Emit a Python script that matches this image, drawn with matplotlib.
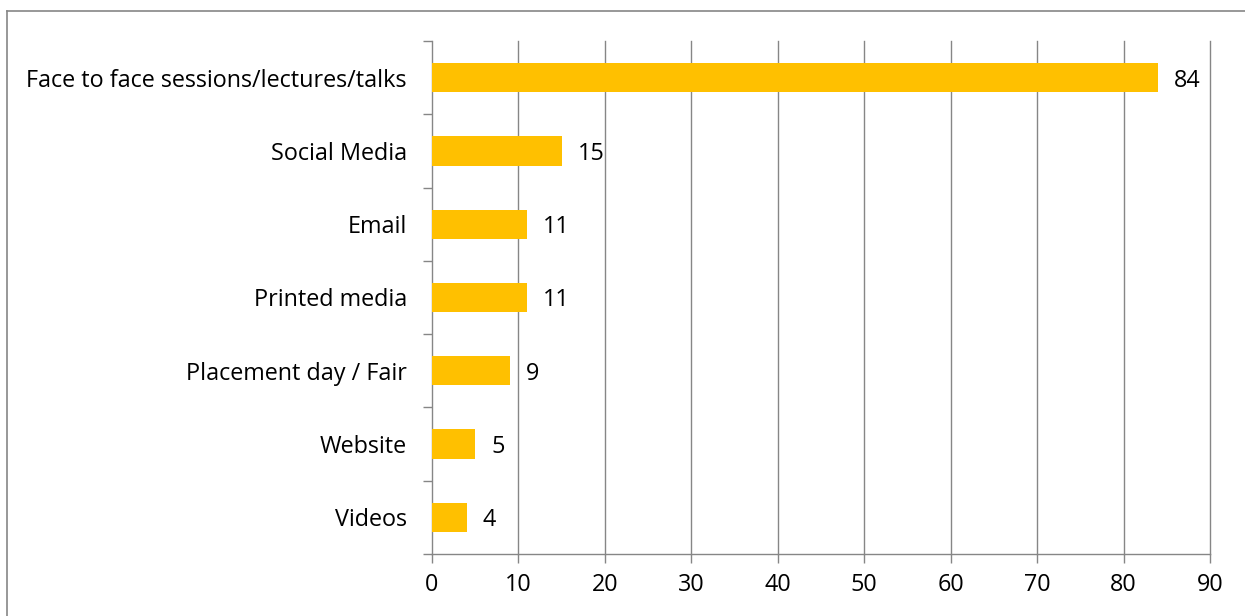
import matplotlib
matplotlib.use("Agg")
import matplotlib.pyplot as plt
from matplotlib.lines import Line2D

categories = [
    "Face to face sessions/lectures/talks",
    "Social Media",
    "Email",
    "Printed media",
    "Placement day / Fair",
    "Website",
    "Videos",
]
values = [84, 15, 11, 11, 9, 5, 4]
x_ticks = [0, 10, 20, 30, 40, 50, 60, 70, 80, 90]

W, H = 1245, 616
fig = plt.figure(figsize=(W / 100, H / 100), dpi=100)
fig.patch.set_facecolor("white")

FONT = "Open Sans"
FS = 16.8
GRID = "#868686"
BAR = "#FFC000"

left, right = 432 / W, 1210 / W
top, bottom = 1 - 41 / H, 1 - 554 / H
ax = fig.add_axes([left, bottom, right - left, top - bottom])

n = len(categories)
ypos = list(range(n))[::-1]
ax.barh(ypos, values, height=0.4, color=BAR, zorder=3)

ax.set_xlim(0, 90)
ax.set_ylim(-0.5, n - 0.5)
ax.set_xticks(x_ticks)
ax.set_xticklabels([str(t) for t in x_ticks], fontsize=FS, family=FONT)
for t in x_ticks[1:]:
    ax.axvline(t, color=GRID, linewidth=1.0, zorder=0, clip_on=False)

# category labels at bar centres, separator ticks between categories
ax.set_yticks(ypos)
ax.set_yticklabels(categories, fontsize=FS, family=FONT)
ax.tick_params(axis="y", length=0, pad=18)
ax.set_yticks([i - 0.5 for i in range(n + 1)], minor=True)
ax.tick_params(axis="y", which="minor", length=6.5, width=1.0, color=GRID)
ax.tick_params(axis="x", length=6.5, width=1.0, color=GRID, pad=7)

for s in ["top", "right"]:
    ax.spines[s].set_visible(False)
for s in ["left", "bottom"]:
    ax.spines[s].set_color(GRID)
    ax.spines[s].set_linewidth(1.0)

for y, v in zip(ypos, values):
    ax.annotate(str(v), (v, y), xytext=(16, 0), textcoords="offset pixels",
                va="center_baseline", ha="left", fontsize=FS, family=FONT, color="black")

# outer chart frame (top and left edges)
fig.add_artist(Line2D([6.5 / W, 6.5 / W], [0, 1 - 11 / H], transform=fig.transFigure,
                      color=GRID, linewidth=1.2))
fig.add_artist(Line2D([6.5 / W, 1], [1 - 11 / H, 1 - 11 / H], transform=fig.transFigure,
                      color=GRID, linewidth=1.2))

fig.savefig("out.png", dpi=100)
